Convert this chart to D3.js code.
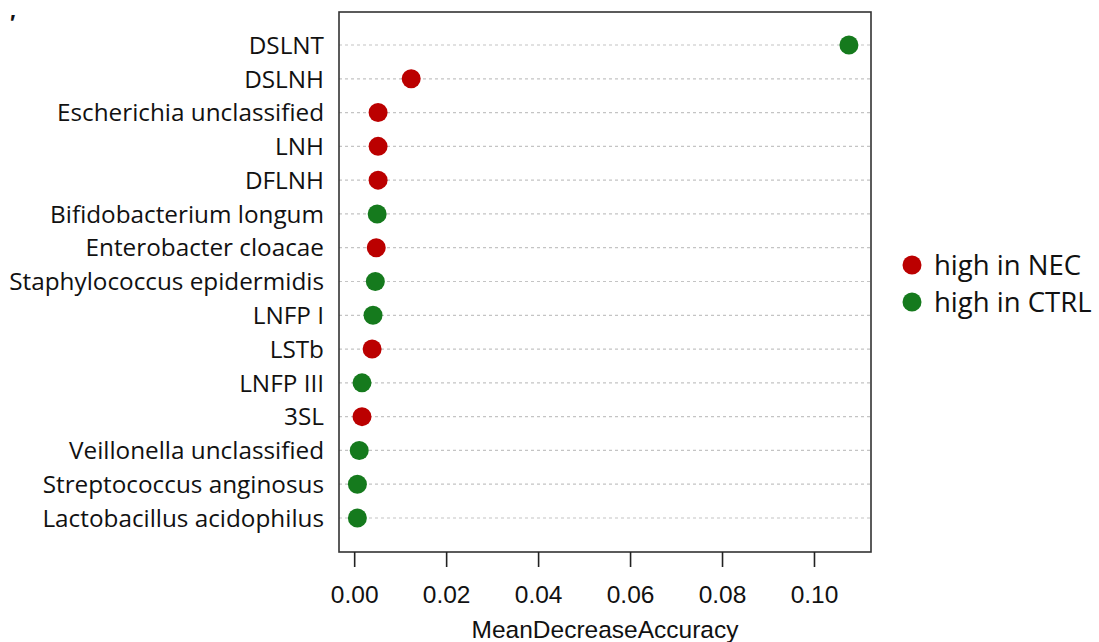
<!DOCTYPE html>
<html>
<head>
<meta charset="utf-8">
<script src="https://cdn.jsdelivr.net/npm/d3@7"></script>
<style>
  html, body { margin: 0; padding: 0; background: #fff; }
  svg { display: block; }
</style>
</head>
<body>
<div id="chart"></div>
<script>
// Variable importance from the random forest, top to bottom
const features = [
  "DSLNT", "DSLNH", "Escherichia unclassified", "LNH", "DFLNH",
  "Bifidobacterium longum", "Enterobacter cloacae", "Staphylococcus epidermidis",
  "LNFP I", "LSTb", "LNFP III", "3SL", "Veillonella unclassified",
  "Streptococcus anginosus", "Lactobacillus acidophilus"
];
const meanDecreaseAccuracy = [
  0.1076, 0.0124, 0.0052, 0.0052, 0.0052,
  0.0050, 0.0048, 0.0046,
  0.0041, 0.0039, 0.0017, 0.0017, 0.0011,
  0.0007, 0.0007
];
const direction = [
  "CTRL", "NEC", "NEC", "NEC", "NEC",
  "CTRL", "NEC", "CTRL",
  "CTRL", "NEC", "CTRL", "NEC", "CTRL",
  "CTRL", "CTRL"
];
const xTicks = [0.00, 0.02, 0.04, 0.06, 0.08, 0.10];
const legendKeys = ["NEC", "CTRL"];
const legendLabels = ["high in NEC", "high in CTRL"];

const W = 1099, H = 642;
const box = { left: 339, right: 871, top: 12, bottom: 552 };

const color = d3.scaleOrdinal().domain(["NEC", "CTRL"]).range(["#bb0000", "#157a1d"]);

const x = d3.scaleLinear().domain([-0.0033, 0.1124]).range([box.left, box.right]);
const y = d3.scalePoint().domain(features).range([45, 518]);

const svg = d3.select("#chart").append("svg")
  .attr("width", W).attr("height", H);

// dotted guide lines for each feature
svg.append("g").selectAll("line").data(features).join("line")
  .attr("x1", box.left).attr("x2", box.right)
  .attr("y1", d => y(d)).attr("y2", d => y(d))
  .attr("stroke", "#c4c4c4").attr("stroke-width", 1.2)
  .attr("stroke-dasharray", "3,3");

// feature labels
svg.append("g").selectAll("text").data(features).join("text")
  .attr("x", box.left - 15).attr("y", d => y(d))
  .attr("dy", "0.36em").attr("text-anchor", "end")
  .attr("font-family", "'Open Sans', sans-serif").attr("font-size", 24.3)
  .attr("fill", "#111")
  .text(d => d);

// points
svg.append("g").selectAll("circle").data(features).join("circle")
  .attr("cx", (d, i) => x(meanDecreaseAccuracy[i]))
  .attr("cy", d => y(d))
  .attr("r", 9.5)
  .attr("fill", (d, i) => color(direction[i]));

// plot frame
svg.append("rect")
  .attr("x", box.left).attr("y", box.top)
  .attr("width", box.right - box.left).attr("height", box.bottom - box.top)
  .attr("fill", "none").attr("stroke", "#333").attr("stroke-width", 1.6);

// bottom axis
const axis = svg.append("g")
  .attr("transform", `translate(0,${box.bottom})`)
  .call(d3.axisBottom(x).tickValues(xTicks).tickFormat(d3.format(".2f"))
        .tickSize(15).tickPadding(19));
axis.select(".domain").remove();
axis.selectAll(".tick line").attr("stroke", "#222").attr("stroke-width", 1.6);
axis.selectAll(".tick text")
  .attr("font-family", "'Liberation Sans', Arial, sans-serif")
  .attr("font-size", 24.5).attr("fill", "#111");

svg.append("text")
  .attr("x", (box.left + box.right) / 2).attr("y", 638)
  .attr("text-anchor", "middle")
  .attr("font-family", "'Liberation Sans', Arial, sans-serif")
  .attr("font-size", 24.5).attr("fill", "#111")
  .text("MeanDecreaseAccuracy");

// legend
const legend = svg.append("g");
legendKeys.forEach((k, i) => {
  const ly = 265 + i * 37;
  legend.append("circle").attr("cx", 912).attr("cy", ly).attr("r", 9.5).attr("fill", color(k));
  legend.append("text").attr("x", 934).attr("y", ly).attr("dy", "0.36em")
    .attr("font-family", "'Open Sans', sans-serif").attr("font-size", 27.5)
    .attr("fill", "#111").text(legendLabels[i]);
});

// small mark at the top-left corner
svg.append("text").attr("x", 10).attr("y", 30)
  .attr("font-family", "'Liberation Sans', Arial, sans-serif")
  .attr("font-size", 22).attr("font-weight", "bold").attr("fill", "#111")
  .text("′");
</script>
</body>
</html>
